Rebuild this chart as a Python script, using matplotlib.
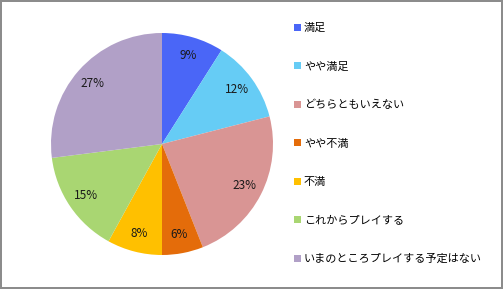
import matplotlib
matplotlib.use('Agg')
import matplotlib.pyplot as plt

plt.rcParams['font.family'] = ['Noto Sans CJK JP', 'DejaVu Sans']

labels = ['満足', 'やや満足', 'どちらともいえない', 'やや不満', '不満',
          'これからプレイする', 'いまのところプレイする予定はない']
values = [9, 12, 23, 6, 8, 15, 27]
colors = ['#4A66F7', '#66CCF5', '#D99594', '#E46C0A', '#FFC000',
          '#A9D672', '#B1A0C7']

fig = plt.figure(figsize=(5.03, 2.89), dpi=100)
fig.patch.set_edgecolor('#8C8C8C')
fig.patch.set_linewidth(1.5)

ax = fig.add_axes([(162 - 111) / 503, 1 - (144 + 111) / 289, 222 / 503, 222 / 289])
wedges, texts, autotexts = ax.pie(values, colors=colors, startangle=90, counterclock=False,
                                  autopct='%d%%', pctdistance=0.83,
                                  textprops={'fontsize': 8.5, 'color': '#1a1a1a'})
ax.set_xlim(-1, 1)
ax.set_ylim(-1, 1)
ax.set_aspect('equal')

fig.legend(wedges, labels, loc='upper left', bbox_to_anchor=(294 / 503, 1 - 23 / 289),
           frameon=False, fontsize=8, handlelength=0.6, handleheight=0.6,
           handletextpad=0.3, labelspacing=2.55, borderaxespad=0, borderpad=0)

plt.savefig('out.png', dpi=100)
